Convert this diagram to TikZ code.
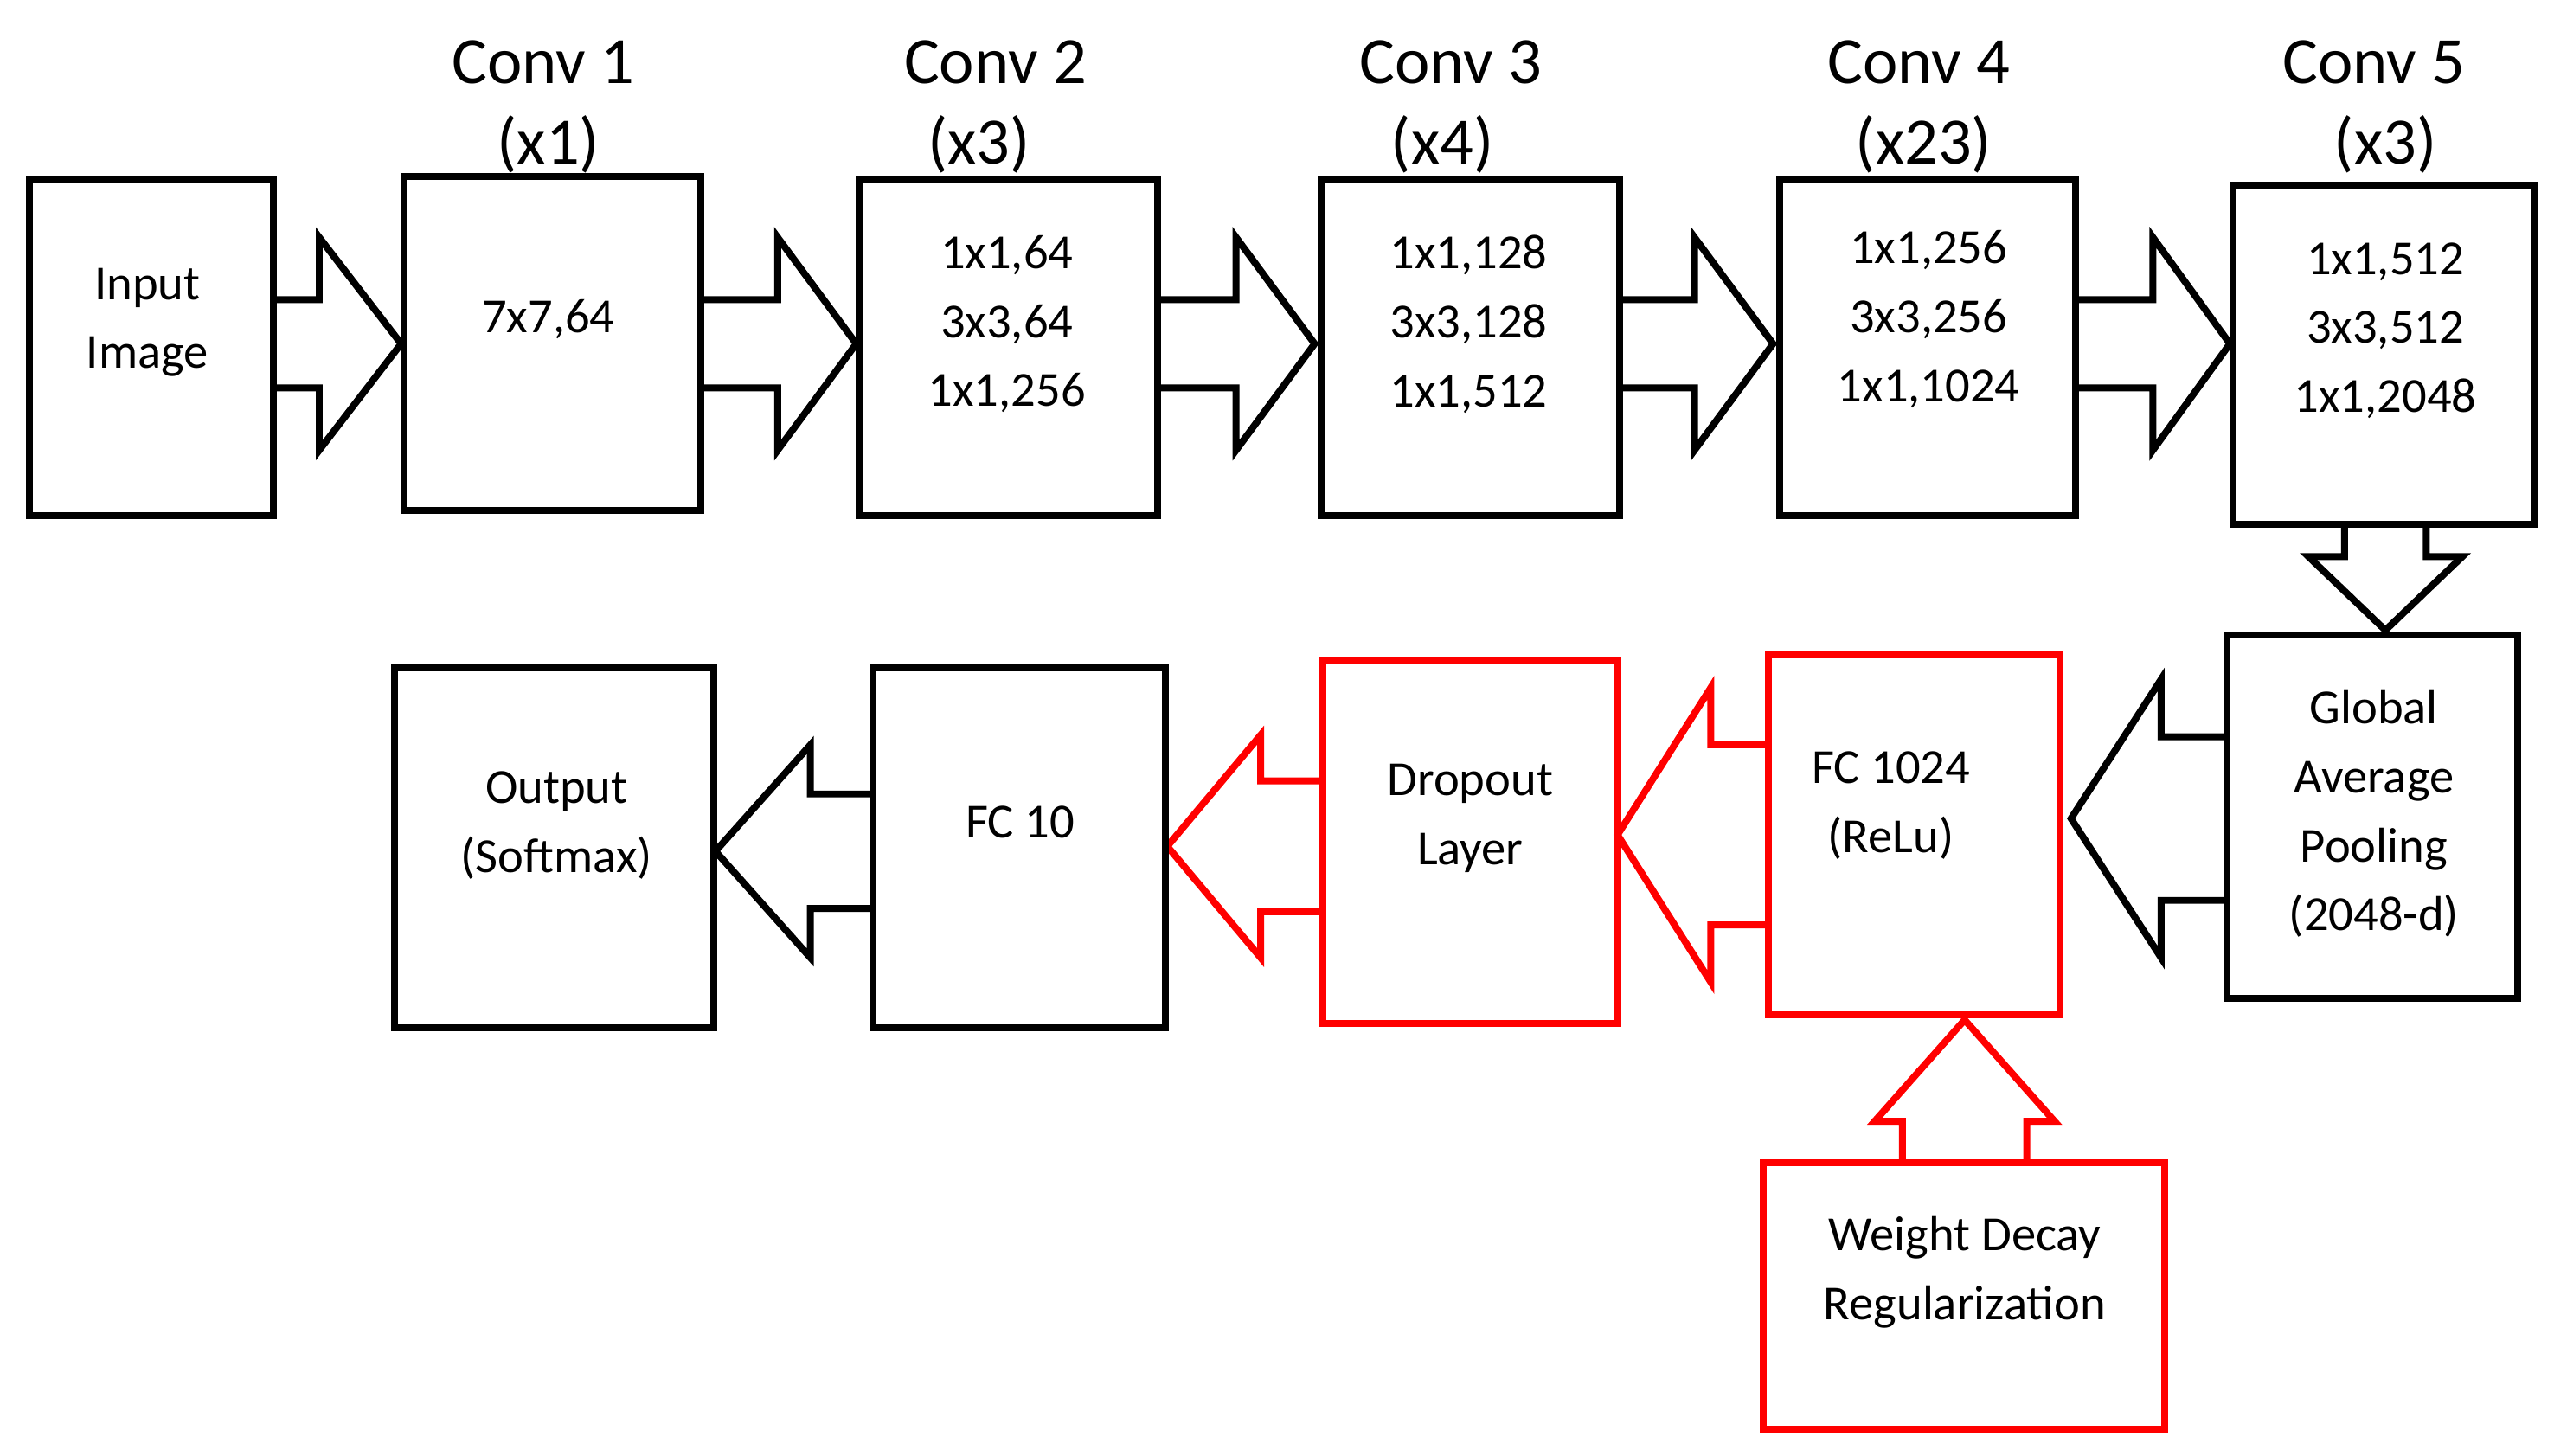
\documentclass[tikz,border=0pt]{standalone}
\usepackage{fontspec}
\setmainfont{Carlito}
\begin{document}
\begin{tikzpicture}[x=0.01cm,y=-0.01cm,
    box/.style={draw, line width=1.2pt},
    txt/.style={font=\fontsize{8.5}{12}\selectfont, align=center},
    ttl/.style={font=\fontsize{11.5}{14}\selectfont},
    blk/.style={draw, line width=1.2pt, line join=miter}
]
\useasboundingbox (0,0) rectangle (1560,889);
% right block arrow: x0 x1 x2 yc shaft head
\newcommand{\rarrow}[7][black]{\draw[blk,#1] (#2,#5-#6) -- (#3,#5-#6) -- (#3,#5-#7) -- (#4,#5) -- (#3,#5+#7) -- (#3,#5+#6) -- (#2,#5+#6);}
% vertical block arrow: y0 y1 y2 xc shaft head
\newcommand{\varrow}[7][black]{\draw[blk,#1] (#5-#6,#2) -- (#5-#6,#3) -- (#5-#7,#3) -- (#5,#4) -- (#5+#7,#3) -- (#5+#6,#3) -- (#5+#6,#2);}

% boxes, top row
\draw[box] (18,110) rectangle (167,315);
\node[txt] (inp) at (90,197) {Input\\Image};
\draw[box] (247,108) rectangle (428,312);
\node[txt] (c1) at (335,195) {7x7,64};
\draw[box] (525,110) rectangle (707,315);
\node[txt] (c2) at (615,198) {1x1,64\\3x3,64\\1x1,256};
\draw[box] (807,110) rectangle (989,315);
\node[txt] (c3) at (897,198) {1x1,128\\3x3,128\\1x1,512};
\draw[box] (1087,110) rectangle (1268,315);
\node[txt] (c4) at (1178,195) {1x1,256\\3x3,256\\1x1,1024};
\draw[box] (1364,113) rectangle (1548,320);
\node[txt] (c5) at (1457,202) {1x1,512\\3x3,512\\1x1,2048};

% titles
\node[ttl] (t1) at (332,38) {Conv 1}; \node[ttl] (m1) at (335,88) {(x1)};
\node[ttl] (t2) at (608,38) {Conv 2}; \node[ttl] (m2) at (598,88) {(x3)};
\node[ttl] (t3) at (886,38) {Conv 3}; \node[ttl] (m3) at (881,88) {(x4)};
\node[ttl] (t4) at (1172,38) {Conv 4}; \node[ttl] (m4) at (1175,88) {(x23)};
\node[ttl] (t5) at (1450,38) {Conv 5}; \node[ttl] (m5) at (1457,88) {(x3)};

% top arrows
\rarrow{167}{195}{245}{210}{27}{65}
\rarrow{428}{475}{523}{210}{27}{65}
\rarrow{707}{755}{803}{210}{27}{65}
\rarrow{989}{1035}{1083}{210}{27}{65}
\rarrow{1268}{1315}{1362}{210}{27}{65}
\varrow{320}{340}{385}{1457}{25}{47}

% bottom row
\draw[box] (1360,388) rectangle (1538,610);
\node[txt] (gap) at (1450,497) {Global\\Average\\Pooling\\(2048-d)};
\rarrow{1360}{1320}{1265}{500}{50}{85}
\draw[box,red] (1080,400) rectangle (1258,620);
\node[txt] (fc1) at (1155,492) {FC 1024\\(ReLu)};
\rarrow[red]{1080}{1045}{988}{510}{55}{90}
\draw[box,red] (808,403) rectangle (988,625);
\node[txt] (drop) at (898,500) {Dropout\\Layer};
\rarrow[red]{808}{770}{713}{517}{40}{68}
\draw[box] (533,408) rectangle (712,628);
\node[txt] (fc10) at (623,502) {FC 10};
\rarrow{533}{495}{437}{520}{35}{65}
\draw[box] (241,408) rectangle (436,628);
\node[txt] (out) at (340,504) {Output\\(Softmax)};

% weight decay
\draw[box,red] (1077,710) rectangle (1322,873);
\node[txt] (wd) at (1200,777) {Weight Decay\\Regularization};
\varrow[red]{710}{685}{623}{1200}{38}{55}
\end{tikzpicture}
\end{document}
